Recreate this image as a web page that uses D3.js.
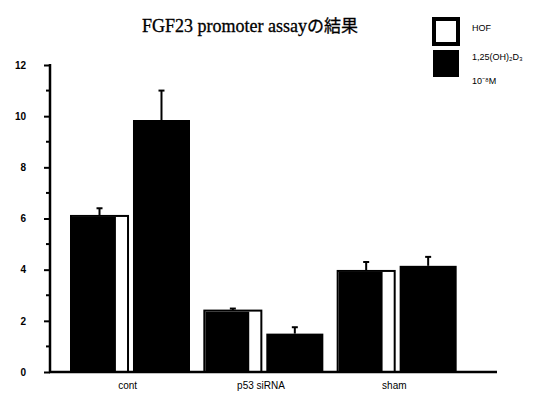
<!DOCTYPE html>
<html><head><meta charset="utf-8">
<script src="https://cdn.jsdelivr.net/npm/d3@7"></script>
<style>body{margin:0;background:#fff}svg{display:block}</style>
</head><body>
<svg id="c" width="537" height="394"></svg>
<script>
const categories = ["cont", "p53 siRNA", "sham"];
const seriesNames = ["HOF", "1,25(OH)\u2082D\u2083 10\u207B\u2078M"];
const hofValues = [6.1, 2.4, 3.95];
const hofErrors = [0.3, 0.08, 0.35];
const vitdValues = [9.85, 1.5, 4.15];
const vitdErrors = [1.15, 0.25, 0.35];
const yTicks = [0, 2, 4, 6, 8, 10, 12];

const svg = d3.select("#c");
const y = d3.scaleLinear().domain([0, 12]).range([372, 65]);
const x0 = d3.scaleBand().domain(categories).range([64, 464]).padding(0);
const x1 = d3.scaleBand().domain([0, 1]).range([7, 126]).paddingInner(0.08);

// title
const title = svg.append("text").attr("x", 250).attr("y", 32).attr("text-anchor", "middle")
  .attr("font-size", 18).attr("fill", "#000").attr("stroke", "#000").attr("stroke-width", 0.3);
title.append("tspan").attr("font-family", "Liberation Serif, serif").text("FGF23 promoter assay");
title.append("tspan").attr("font-family", "Noto Sans CJK JP").attr("font-size", 17).text("の結果");

// y axis
const yAxis = d3.axisLeft(y).tickValues(yTicks).tickSize(6).tickFormat(d3.format("d"));
const ga = svg.append("g").attr("transform", "translate(50,0)").call(yAxis);
ga.select(".domain").attr("stroke-width", 2.5).attr("d", "M0,64V373");
ga.selectAll(".tick line").attr("stroke-width", 2);
ga.selectAll(".tick text").attr("font-family", "Liberation Sans, sans-serif").attr("font-size", 10)
  .attr("font-weight", "bold").attr("x", -24);
const minor = d3.range(1, 12, 2);
svg.append("g").selectAll("line").data(minor).join("line")
  .attr("x1", 46).attr("x2", 50).attr("y1", d => y(d)).attr("y2", d => y(d))
  .attr("stroke", "#000").attr("stroke-width", 2);

// bars
const data = categories.map((c, i) => [
  {c, s: 0, v: hofValues[i], e: hofErrors[i]},
  {c, s: 1, v: vitdValues[i], e: vitdErrors[i]}
]).flat();

const g = svg.append("g");
const bw = x1.bandwidth();
data.forEach(d => {
  const bx = x0(d.c) + x1(d.s);
  if (d.s === 0) {
    g.append("rect").attr("x", bx).attr("y", y(d.v)).attr("width", bw).attr("height", y(0) - y(d.v))
      .attr("fill", "#fff").attr("stroke", "#000").attr("stroke-width", 2);
    g.append("rect").attr("x", bx + 1).attr("y", y(d.v) + 1).attr("width", bw * 0.77).attr("height", y(0) - y(d.v) - 1)
      .attr("fill", "#000");
  } else {
    g.append("rect").attr("x", bx).attr("y", y(d.v)).attr("width", bw).attr("height", y(0) - y(d.v))
      .attr("fill", "#000");
  }
  const cx = bx + bw / 2;
  g.append("line").attr("x1", cx).attr("x2", cx).attr("y1", y(d.v)).attr("y2", y(d.v + d.e))
    .attr("stroke", "#000").attr("stroke-width", 2);
  g.append("line").attr("x1", cx - 3).attr("x2", cx + 3).attr("y1", y(d.v + d.e)).attr("y2", y(d.v + d.e))
    .attr("stroke", "#000").attr("stroke-width", 2);
});

// x axis
svg.append("line").attr("x1", 49).attr("x2", 497).attr("y1", 372).attr("y2", 372)
  .attr("stroke", "#000").attr("stroke-width", 2.5);
svg.append("g").selectAll("text").data(categories).join("text")
  .attr("x", d => x0(d) + x0.bandwidth() / 2 - 3).attr("y", 389).attr("text-anchor", "middle")
  .attr("font-family", "Liberation Sans, sans-serif").attr("font-size", 10).text(d => d);

// legend
const lg = svg.append("g");
lg.append("rect").attr("x", 434).attr("y", 19).attr("width", 24).attr("height", 25)
  .attr("fill", "#fff").attr("stroke", "#000").attr("stroke-width", 4);
lg.append("rect").attr("x", 433).attr("y", 50).attr("width", 26).attr("height", 27).attr("fill", "#000");
lg.append("text").attr("x", 472).attr("y", 31).attr("font-family", "Liberation Sans, sans-serif")
  .attr("font-size", 9).text(seriesNames[0]);
const t2 = lg.append("text").attr("font-family", "Liberation Sans, sans-serif").attr("font-size", 9);
t2.append("tspan").attr("x", 472).attr("y", 60).text("1,25(OH)\u2082D\u2083");
t2.append("tspan").attr("x", 472).attr("y", 84).text("10\u207B\u2078M");
</script>
</body></html>
